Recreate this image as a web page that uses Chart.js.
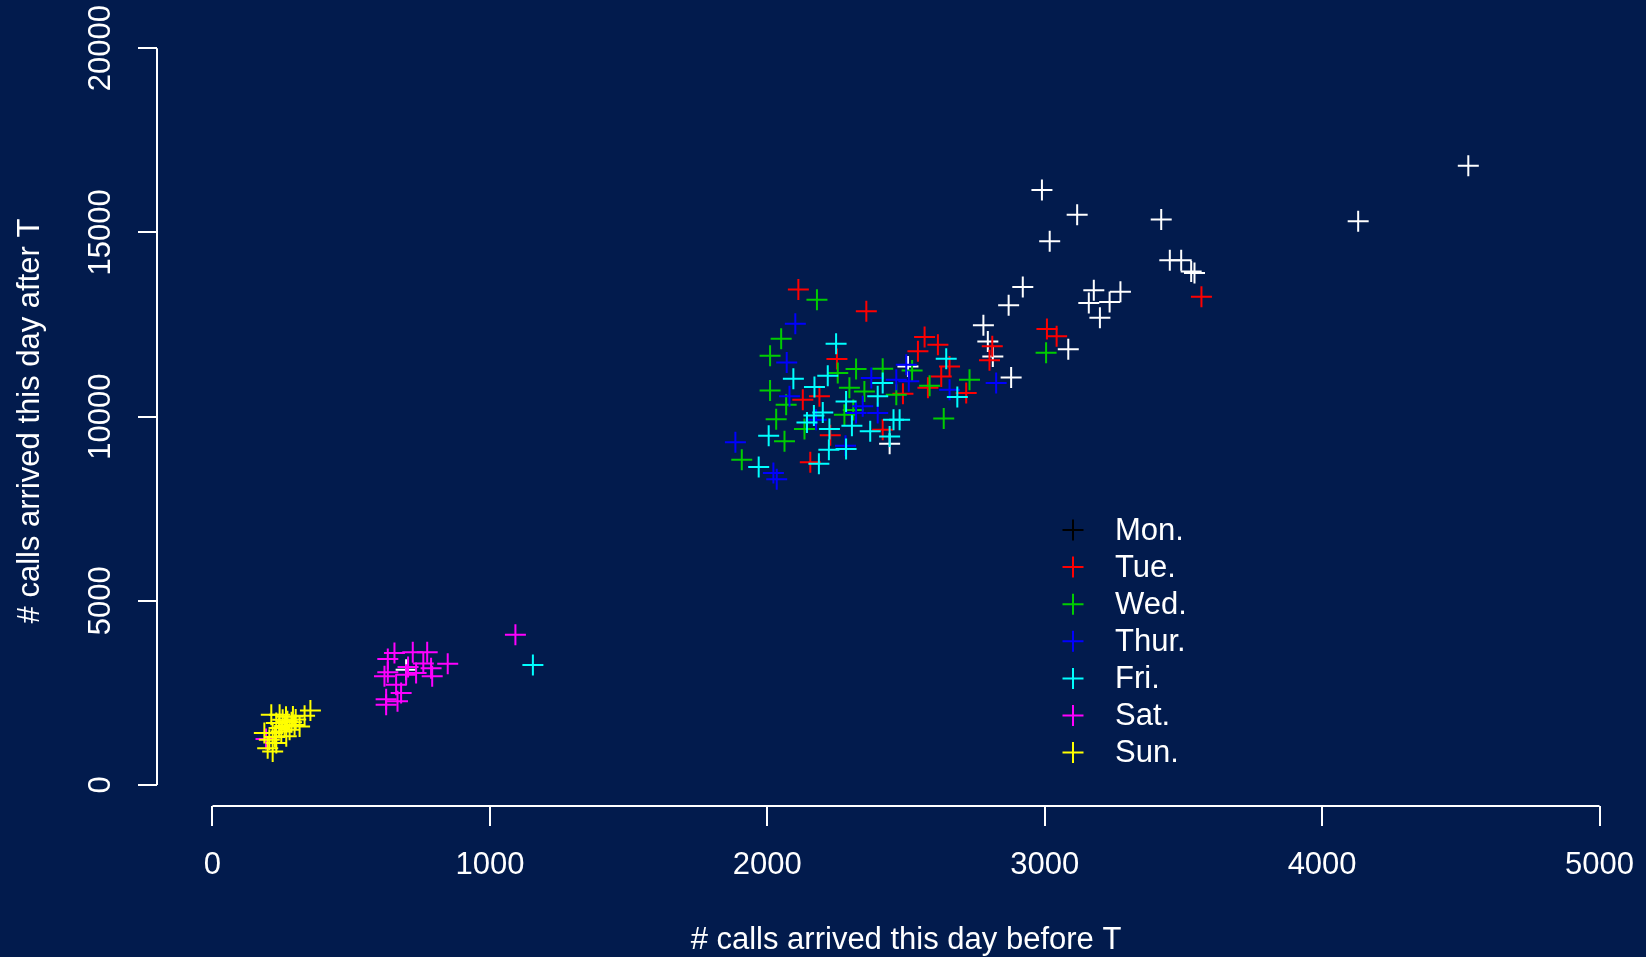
<!DOCTYPE html>
<html>
<head>
<meta charset="utf-8">
<title>calls before / after T</title>
<script src="https://cdn.jsdelivr.net/npm/chart.js@4.4.1/dist/chart.umd.min.js"></script>
<style>
  html, body { margin: 0; padding: 0; background: #021b4d; overflow: hidden; }
  canvas { display: block; }
</style>
</head>
<body>
<!-- plot region runs a few pixels past the right edge of the picture, as in the original -->
<canvas id="chart" width="1655" height="957" style="width:1655px;height:957px"></canvas>
<script>
// --- data ---
const dayLabels = ['Mon.', 'Tue.', 'Wed.', 'Thur.', 'Fri.', 'Sat.', 'Sun.'];

const monX = [4527, 4130, 2990, 3117, 3420, 3018, 3451, 3492, 3528, 3540, 2921, 2870, 3177, 3273, 3159, 3234, 3199, 3085, 2879, 2779, 2795, 2813, 2507, 2441, 698];
const monY = [16810, 15300, 16150, 15480, 15350, 14760, 14240, 14240, 13940, 13900, 13520, 13020, 13430, 13390, 13080, 13110, 12680, 11830, 11060, 12480, 12040, 11630, 11360, 9260, 3130];

const tueX = [2112, 2357, 2251, 2543, 2567, 2615, 2627, 2657, 2579, 2489, 2717, 2416, 2155, 2128, 2188, 2227, 3565, 3008, 3043, 2811, 2801];
const tueY = [13450, 12860, 11560, 11770, 12160, 11950, 11090, 11360, 10780, 10620, 10640, 9640, 8760, 10460, 10550, 9490, 13250, 12380, 12180, 11910, 11530];

const wedX = [2179, 2050, 2010, 2254, 2320, 2416, 2522, 2585, 2729, 2636, 1908, 2062, 2032, 2010, 2068, 2134, 2278, 2296, 2350, 3005, 2465, 2310];
const wedY = [13170, 12110, 11650, 11180, 11290, 11300, 11250, 10840, 11000, 9950, 8830, 9330, 9930, 10710, 10320, 9660, 10050, 10780, 10680, 11730, 10590, 10180];

const thuX = [2101, 2070, 2375, 2501, 2510, 2657, 2398, 2282, 2022, 2034, 1885, 2080, 2825, 2320, 2176, 2465, 2344];
const thuY = [12520, 11470, 11050, 11410, 10960, 10730, 10100, 9210, 8470, 8300, 9300, 10550, 10910, 10100, 9915, 11000, 10280];

const friX = [2248, 2094, 2218, 2416, 2645, 2685, 2477, 2455, 2441, 2398, 2371, 2284, 2222, 2186, 1969, 2005, 2170, 2168, 2200, 2143, 2305, 2224, 2284, 1155];
const friY = [11980, 11030, 11110, 10910, 11570, 10530, 9915, 9915, 9460, 10550, 9600, 9120, 9100, 8720, 8630, 9480, 10800, 10030, 10110, 9840, 9750, 9660, 10410, 3260];

const satX = [656, 632, 722, 774, 848, 788, 792, 734, 698, 620, 632, 662, 680, 626, 667, 626, 1092, 193, 705, 760];
const satY = [3580, 3420, 3600, 3600, 3290, 3170, 2950, 3040, 2990, 2950, 3060, 2720, 2500, 2330, 2270, 2180, 4080, 1250, 3200, 3300];

const sunX = [353, 332, 290, 212, 242, 253, 270, 230, 296, 314, 278, 248, 217, 205, 230, 199, 217, 187, 266, 260, 285, 240, 225, 300, 265];
const sunY = [2020, 1880, 1860, 1910, 1910, 1770, 1730, 1680, 1630, 1590, 1500, 1450, 1410, 1230, 1140, 1000, 910, 1410, 1320, 1600, 1700, 1550, 1300, 1780, 1850];

const xTicks = [0, 1000, 2000, 3000, 4000, 5000];
const yTicks = [0, 5000, 10000, 15000, 20000];
const xTitle = '# calls arrived this day before T';
const yTitle = '# calls arrived this day after T';

// --- styling ---
const FONT = '"Liberation Sans", Arial, Helvetica, sans-serif';
const WHITE = '#ffffff';
const pointColors = ['#ffffff', '#ff0000', '#00cd00', '#0000ff', '#00ffff', '#ff00ff', '#ffff00'];
const legendColors = ['#000000', '#ff0000', '#00cd00', '#0000ff', '#00ffff', '#ff00ff', '#ffff00'];

const series = [[monX, monY], [tueX, tueY], [wedX, wedY], [thuX, thuY], [friX, friY], [satX, satY], [sunX, sunY]];

const datasets = series.map(([xs, ys], i) => ({
    label: dayLabels[i],
    data: xs.map((x, j) => ({ x, y: ys[j] })),
    pointStyle: 'cross',
    pointRadius: 10.5,
    borderWidth: 2,
    borderColor: pointColors[i],
    backgroundColor: pointColors[i],
    order: dayLabels.length - 1 - i,
}));

// the scales must not shrink the plot area for their end labels
function noEdgePadding(scale) {
    scale.paddingLeft = 0;
    scale.paddingRight = 0;
    scale.paddingTop = 0;
    scale.paddingBottom = 0;
}

// R-style axis lines: only from first tick to last tick
const axisLines = {
    id: 'axisLines',
    afterDraw(chart) {
        const { ctx } = chart;
        const { x, y } = chart.scales;
        ctx.save();
        ctx.strokeStyle = WHITE;
        ctx.lineWidth = 2;
        ctx.beginPath();
        ctx.moveTo(x.getPixelForValue(xTicks[0]), x.top);
        ctx.lineTo(x.getPixelForValue(xTicks[xTicks.length - 1]), x.top);
        ctx.moveTo(y.right, y.getPixelForValue(yTicks[0]));
        ctx.lineTo(y.right, y.getPixelForValue(yTicks[yTicks.length - 1]));
        ctx.stroke();
        ctx.restore();
    },
};

const dayLegend = {
    id: 'dayLegend',
    afterDraw(chart) {
        const { ctx } = chart;
        const markX = 1073;
        const textX = 1115;
        const top = 530;
        const step = 37.1;
        const r = 10.5;
        ctx.save();
        ctx.font = '31px ' + FONT;
        ctx.textBaseline = 'middle';
        ctx.textAlign = 'left';
        chart.data.datasets.forEach((ds, i) => {
            const yy = top + i * step;
            ctx.strokeStyle = legendColors[i];
            ctx.lineWidth = 2;
            ctx.beginPath();
            ctx.moveTo(markX - r, yy);
            ctx.lineTo(markX + r, yy);
            ctx.moveTo(markX, yy - r);
            ctx.lineTo(markX, yy + r);
            ctx.stroke();
            ctx.fillStyle = WHITE;
            ctx.fillText(ds.label, textX, yy + 1);
        });
        ctx.restore();
    },
};

new Chart(document.getElementById('chart'), {
    type: 'scatter',
    data: { datasets },
    options: {
        responsive: false,
        animation: false,
        events: [],
        layout: { autoPadding: false, padding: { top: 36, right: 0, bottom: 0, left: 0 } },
        plugins: {
            legend: { display: false },
            tooltip: { enabled: false },
        },
        scales: {
            x: {
                type: 'linear',
                position: 'bottom',
                min: -200,
                max: 5200,
                afterBuildTicks: (scale) => { scale.ticks = xTicks.map((v) => ({ value: v })); },
                afterFit: (scale) => { scale.height = 151; noEdgePadding(scale); },
                grid: { drawOnChartArea: false, drawTicks: true, tickLength: 20, color: WHITE, lineWidth: 2 },
                border: { display: false },
                ticks: {
                    color: WHITE,
                    font: { family: FONT, size: 31 },
                    padding: 21,
                    maxRotation: 0,
                    autoSkip: false,
                    callback: (v) => String(v),
                },
                title: {
                    display: true,
                    text: xTitle,
                    color: WHITE,
                    font: { family: FONT, size: 31 },
                    padding: { top: 0, bottom: -2 },
                },
            },
            y: {
                type: 'linear',
                position: 'left',
                min: -570,
                max: 20330,
                afterBuildTicks: (scale) => { scale.ticks = yTicks.map((v) => ({ value: v })); },
                afterFit: (scale) => { scale.width = 157; noEdgePadding(scale); },
                grid: { drawOnChartArea: false, drawTicks: true, tickLength: 19, color: WHITE, lineWidth: 2 },
                border: { display: false },
                ticks: {
                    color: WHITE,
                    font: { family: FONT, size: 31 },
                    padding: -7,
                    minRotation: 90,
                    maxRotation: 90,
                    crossAlign: 'center',
                    autoSkip: false,
                    callback: (v) => String(v),
                },
                title: {
                    display: true,
                    text: yTitle,
                    color: WHITE,
                    font: { family: FONT, size: 31 },
                    padding: { top: 12, bottom: 0 },
                },
            },
        },
    },
    plugins: [axisLines, dayLegend],
});
</script>
</body>
</html>
